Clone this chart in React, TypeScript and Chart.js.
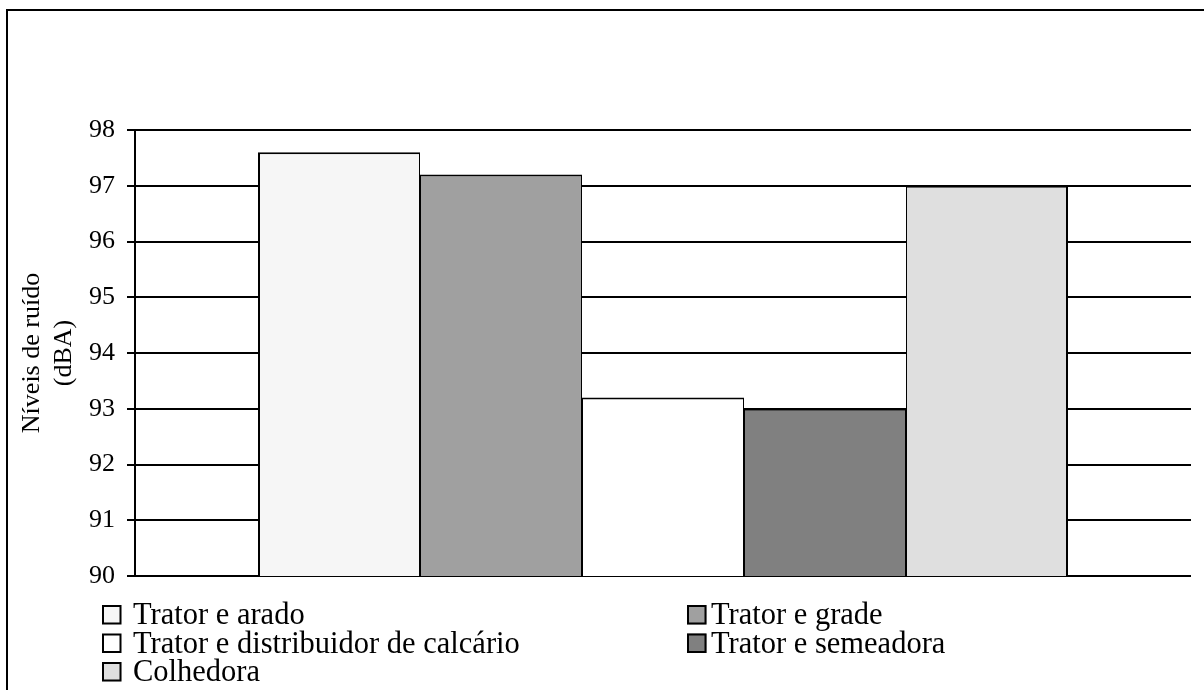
import React, { useEffect, useRef } from 'react';
import { Chart, registerables } from 'chart.js';

Chart.register(...registerables);

// ---- data ----
const categories: string[] = [''];
const seriesLabels: string[] = [
  'Trator e arado',
  'Trator e grade',
  'Trator e distribuidor de calcário',
  'Trator e semeadora',
  'Colhedora',
];
const seriesValues: number[] = [97.6, 97.2, 93.2, 93.0, 97.0];
const seriesColors: string[] = ['#f6f6f6', '#a0a0a0', '#ffffff', '#808080', '#dfdfdf'];
const yTicks: number[] = [90, 91, 92, 93, 94, 95, 96, 97, 98];
const yTitle: string[] = ['Níveis de ruído', '(dBA)'];

const FONT = '"Liberation Serif", "Times New Roman", Times, serif';

// legend layout (2 columns, row-major)
const legendColumns = [
  { box: 102, text: 133 },
  { box: 687, text: 711 },
];
const legendRowTops = [605, 633.5, 662];
const legendBoxSize = 19.5;

const gridLegend = {
  id: 'gridLegend',
  afterDraw(chart: any) {
    const ctx: CanvasRenderingContext2D = chart.ctx;
    ctx.save();
    ctx.font = `30.5px ${FONT}`;
    ctx.textBaseline = 'alphabetic';
    ctx.textAlign = 'left';
    chart.data.datasets.forEach((ds: any, i: number) => {
      const col = legendColumns[i % 2];
      const top = legendRowTops[Math.floor(i / 2)];
      ctx.fillStyle = ds.backgroundColor;
      ctx.fillRect(col.box, top, legendBoxSize, legendBoxSize);
      ctx.strokeStyle = '#000';
      ctx.lineWidth = 2;
      ctx.strokeRect(col.box + 1, top + 1, legendBoxSize - 2, legendBoxSize - 2);
      ctx.fillStyle = '#000';
      ctx.fillText(ds.label, col.text, top + 19);
    });
    ctx.restore();
  },
};

export default function App() {
  const ref = useRef<HTMLCanvasElement>(null);

  useEffect(() => {
    const n = seriesLabels.length;
    const chart = new Chart(ref.current as HTMLCanvasElement, {
      type: 'bar',
      data: {
        labels: categories,
        datasets: seriesLabels.map((label, i) => ({
          label,
          data: [seriesValues[i]],
          backgroundColor: seriesColors[i],
          borderColor: '#000',
          borderWidth: { top: 2, bottom: 0, left: i === 0 ? 2 : 1, right: i === n - 1 ? 2 : 1 },
          borderSkipped: false,
          inflateAmount: 0,
          categoryPercentage: 810 / 1056,
          barPercentage: 1,
        })),
      },
      options: {
        responsive: true,
        maintainAspectRatio: false,
        animation: false,
        layout: { padding: { top: 130, right: 13, bottom: 114, left: 0 } },
        plugins: {
          legend: { display: false },
          tooltip: { enabled: false },
        },
        scales: {
          x: { display: false },
          y: {
            min: 90,
            max: 98,
            afterFit(scale: any) {
              scale.width = 135;
            },
            afterBuildTicks(scale: any) {
              scale.ticks = yTicks.map((v) => ({ value: v }));
            },
            grid: { color: '#000', lineWidth: 2, tickLength: 8, drawTicks: true },
            border: { display: true, color: '#000', width: 2 },
            ticks: { color: '#000', padding: 12, font: { family: FONT, size: 26 } },
            title: {
              display: true,
              text: yTitle,
              color: '#000',
              font: { family: FONT, size: 26, lineHeight: 1.2 },
              padding: { top: 17, bottom: 0 },
            },
          },
        },
      } as any,
      plugins: [gridLegend],
    });
    return () => chart.destroy();
  }, []);

  return (
    <div
      style={{
        position: 'fixed',
        left: 0,
        top: 0,
        width: 1204,
        height: 690,
        overflow: 'hidden',
        background: '#fff',
      }}
    >
      <div
        style={{
          position: 'absolute',
          left: 6,
          top: 9,
          width: 1400,
          height: 900,
          borderTop: '2px solid #000',
          borderLeft: '2px solid #000',
        }}
      />
      <div style={{ position: 'absolute', left: 0, top: 0, width: 1204, height: 690 }}>
        <canvas ref={ref} />
      </div>
    </div>
  );
}
